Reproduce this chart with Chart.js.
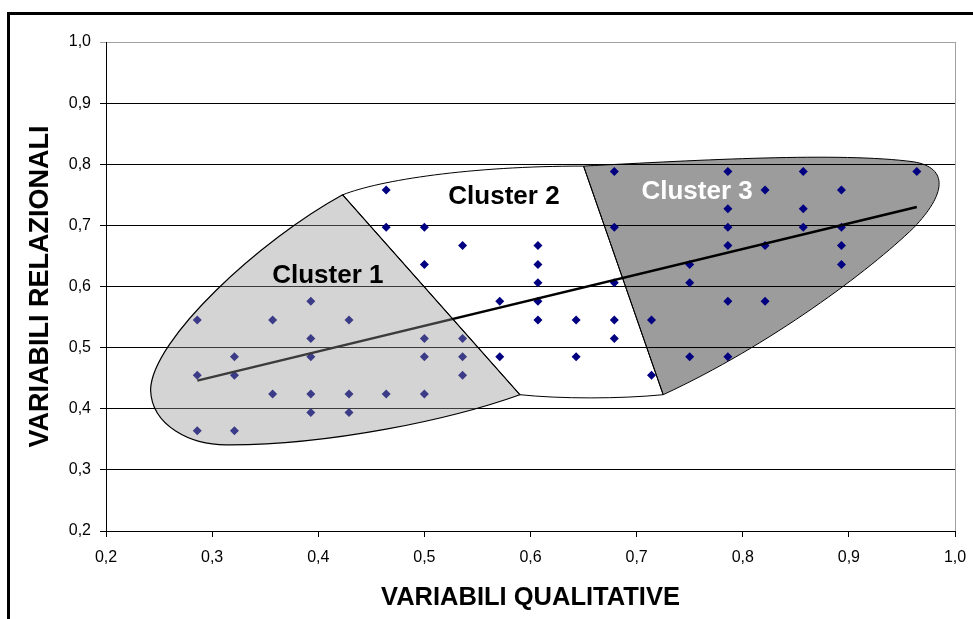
<!DOCTYPE html>
<html>
<head>
<meta charset="utf-8">
<script src="https://cdn.jsdelivr.net/npm/chart.js@4.4.0/dist/chart.umd.min.js"></script>
<style>
    html, body { margin: 0; padding: 0; background: #fff; overflow: hidden; }
    #frame { position: absolute; left: 7px; top: 12px; width: 1000px; height: 700px; border: 3px solid #000; }
    #wrap { position: absolute; left: 0; top: 0; width: 973px; height: 619px; }
</style>
</head>
<body>
<div id="frame"></div>
<div id="wrap"><canvas id="clusterChart" width="973" height="619"></canvas></div>
<script>
// tick values shared by both axes
const axisTicks = [0.2, 0.3, 0.4, 0.5, 0.6, 0.7, 0.8, 0.9, 1.0];

// points, grouped by the cluster region they sit in
const cluster1X = [0.286, 0.286, 0.286, 0.321, 0.321, 0.321, 0.357, 0.357, 0.393, 0.393, 0.393, 0.393, 0.393,
                   0.429, 0.429, 0.429, 0.464, 0.500, 0.500, 0.500, 0.536, 0.536, 0.536];
const cluster1Y = [0.545, 0.455, 0.364, 0.485, 0.455, 0.364, 0.545, 0.424, 0.576, 0.515, 0.485, 0.424, 0.394,
                   0.545, 0.424, 0.394, 0.424, 0.515, 0.485, 0.424, 0.515, 0.485, 0.455];

const cluster2X = [0.464, 0.464, 0.500, 0.500, 0.536, 0.571, 0.571, 0.607, 0.607, 0.607, 0.607, 0.607,
                   0.643, 0.643, 0.679, 0.679, 0.679, 0.714];
const cluster2Y = [0.758, 0.697, 0.697, 0.636, 0.667, 0.576, 0.485, 0.667, 0.636, 0.606, 0.576, 0.545,
                   0.545, 0.485, 0.606, 0.545, 0.515, 0.455];

const cluster3X = [0.679, 0.679, 0.714, 0.750, 0.750, 0.750, 0.786, 0.786, 0.786, 0.786, 0.786, 0.786,
                   0.821, 0.821, 0.821, 0.857, 0.857, 0.857, 0.893, 0.893, 0.893, 0.893, 0.964];
const cluster3Y = [0.788, 0.697, 0.545, 0.636, 0.606, 0.485, 0.788, 0.727, 0.697, 0.667, 0.576, 0.485,
                   0.758, 0.667, 0.576, 0.788, 0.727, 0.697, 0.758, 0.697, 0.667, 0.636, 0.788];

// linear trend line end points
const trendX = [0.286, 0.964];
const trendY = [0.446, 0.730];

const clusterNames = ['Cluster 1', 'Cluster 2', 'Cluster 3'];

// hand-drawn cluster outlines, in axis units
const cluster1Shape = [
    ['M', 0.423, 0.750],
    ['L', 0.590, 0.423],
    ['C', 0.524, 0.382, 0.411, 0.341, 0.317, 0.341],
    ['C', 0.279, 0.339, 0.243, 0.373, 0.242, 0.431],
    ['C', 0.243, 0.513, 0.345, 0.676, 0.423, 0.750]
];
const cluster2Shape = [
    ['M', 0.423, 0.750],
    ['C', 0.458, 0.774, 0.543, 0.797, 0.650, 0.797],
    ['L', 0.725, 0.423],
    ['C', 0.684, 0.416, 0.628, 0.416, 0.590, 0.423]
];
const cluster3Shape = [
    ['M', 0.650, 0.797],
    ['C', 0.760, 0.807, 0.892, 0.820, 0.961, 0.804],
    ['C', 0.995, 0.794, 0.991, 0.750, 0.961, 0.696],
    ['C', 0.920, 0.627, 0.826, 0.504, 0.725, 0.423]
];
const labelSpots = [[0.409, 0.617], [0.575, 0.747], [0.757, 0.755]];

const FONT = 'Arial, "Liberation Sans", sans-serif';
const NAVY = '#000080';

const toPoints = (xs, ys) => xs.map((x, i) => ({ x, y: ys[i] }));
const fmt = v => Number(v).toFixed(1).replace('.', ',');

function tracePath(chart, shape) {
    const { ctx, scales } = chart;
    const px = v => scales.x.getPixelForValue(v);
    const py = v => scales.y.getPixelForValue(v);
    ctx.beginPath();
    shape.forEach(([cmd, ...p]) => {
        if (cmd === 'M') ctx.moveTo(px(p[0]), py(p[1]));
        else if (cmd === 'L') ctx.lineTo(px(p[0]), py(p[1]));
        else ctx.bezierCurveTo(px(p[0]), py(p[1]), px(p[2]), py(p[3]), px(p[4]), py(p[5]));
    });
    ctx.closePath();
}

const clusterShapes = {
    id: 'clusterShapes',
    beforeDraw(chart) {
        const { ctx, chartArea } = chart;
        ctx.save();
        // dark cluster sits under the grid
        tracePath(chart, cluster3Shape);
        ctx.fillStyle = '#9c9c9c';
        ctx.fill();
        ctx.lineWidth = 1;
        ctx.strokeStyle = '#000';
        ctx.stroke();
        // grey plot frame, right side
        ctx.beginPath();
        ctx.moveTo(chartArea.right + 0.5, chartArea.top);
        ctx.lineTo(chartArea.right + 0.5, chartArea.bottom);
        ctx.strokeStyle = '#a0a0a0';
        ctx.stroke();
        ctx.restore();
    },
    afterDatasetsDraw(chart) {
        const { ctx, scales } = chart;
        ctx.save();
        // light cluster is a translucent sheet over the points
        tracePath(chart, cluster1Shape);
        ctx.fillStyle = 'rgba(148, 148, 148, 0.4)';
        ctx.fill();
        ctx.lineWidth = 1.2;
        ctx.strokeStyle = '#000';
        ctx.stroke();
        tracePath(chart, cluster2Shape);
        ctx.lineWidth = 1;
        ctx.stroke();

        ctx.font = 'bold 26px ' + FONT;
        ctx.textAlign = 'center';
        ctx.textBaseline = 'middle';
        clusterNames.forEach((name, i) => {
            ctx.fillStyle = i === 2 ? '#fff' : '#000';
            ctx.fillText(name, scales.x.getPixelForValue(labelSpots[i][0]), scales.y.getPixelForValue(labelSpots[i][1]));
        });
        ctx.restore();
    }
};

const pointStyle = {
    pointStyle: 'rectRot',
    pointRadius: 4.5,
    pointHoverRadius: 4.5,
    backgroundColor: NAVY,
    borderColor: NAVY,
    borderWidth: 0
};

new Chart(document.getElementById('clusterChart').getContext('2d'), {
    type: 'scatter',
    data: {
        datasets: [
            { label: clusterNames[0], data: toPoints(cluster1X, cluster1Y), order: 2, ...pointStyle },
            { label: clusterNames[1], data: toPoints(cluster2X, cluster2Y), order: 2, ...pointStyle },
            { label: clusterNames[2], data: toPoints(cluster3X, cluster3Y), order: 2, ...pointStyle },
            {
                label: 'Tendenza',
                data: toPoints(trendX, trendY),
                showLine: true,
                pointRadius: 0,
                borderColor: '#000',
                borderWidth: 2.5,
                order: 1
            }
        ]
    },
    options: {
        responsive: false,
        animation: false,
        layout: { padding: { left: 0, top: 42, right: 18, bottom: 0 } },
        plugins: {
            legend: { display: false },
            tooltip: { enabled: false }
        },
        scales: {
            x: {
                type: 'linear',
                min: 0.2,
                max: 1.0,
                afterBuildTicks: s => { s.ticks = axisTicks.map(value => ({ value })); },
                afterFit: s => {
                    s.height = 88;
                    // keep the tick padding from widening the side margins
                    s.paddingLeft = 0;
                    s.paddingRight = 0;
                },
                grid: { drawOnChartArea: false, drawTicks: true, tickLength: 6, color: '#000' },
                border: { color: '#000', width: 1 },
                ticks: {
                    color: '#000',
                    padding: 11,
                    font: { family: FONT, size: 16 },
                    callback: v => fmt(v)
                },
                title: {
                    display: true,
                    text: 'VARIABILI QUALITATIVE',
                    color: '#000',
                    font: { family: FONT, size: 25.5, weight: 'bold' },
                    padding: { top: 0, bottom: 6 }
                }
            },
            y: {
                type: 'linear',
                min: 0.2,
                max: 1.0,
                afterBuildTicks: s => { s.ticks = axisTicks.map(value => ({ value })); },
                afterFit: s => { s.width = 106; },
                grid: {
                    tickLength: 6,
                    color: c => (c.tick && c.tick.value > 0.99 ? '#a0a0a0' : '#000')
                },
                border: { color: '#000', width: 1 },
                ticks: {
                    color: '#000',
                    padding: 9,
                    font: { family: FONT, size: 16 },
                    callback: v => fmt(v)
                },
                title: {
                    display: true,
                    text: 'VARIABILI RELAZIONALI',
                    color: '#000',
                    font: { family: FONT, size: 27, weight: 'bold' },
                    padding: { top: 24, bottom: 0 }
                }
            }
        }
    },
    plugins: [clusterShapes]
});
</script>
</body>
</html>
